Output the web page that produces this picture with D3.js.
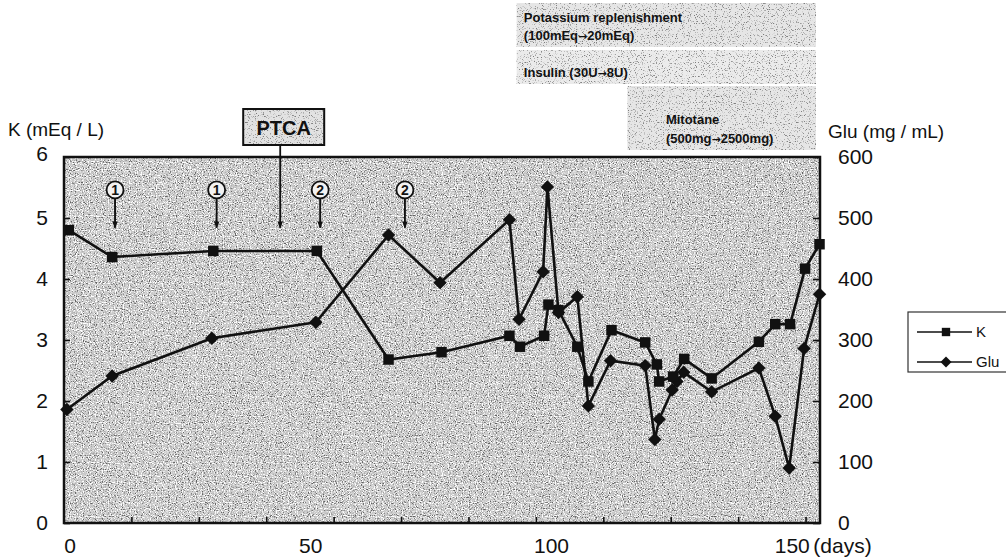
<!DOCTYPE html>
<html>
<head>
<meta charset="utf-8">
<script src="https://cdn.jsdelivr.net/npm/d3@7"></script>
<style>
  body { margin: 0; background: #fff; }
  text { font-family: "Liberation Sans", Arial, sans-serif; fill: #111; }
  tspan.arr { font-family: "DejaVu Sans", sans-serif; }
</style>
</head>
<body>
<svg id="chart" width="1006" height="559"></svg>
<script>
// K (mEq/L) readings
const kDays = [1, 10, 31, 52.5, 67.4, 78.4, 92.5, 94.7, 99.7, 100.6, 102.7, 106.6, 108.9,
  113.7, 120.7, 123.1, 123.6, 126.5, 128.8, 134.5, 144.3, 147.7, 150.8, 153.9, 156.9];
const kVals = [4.8, 4.36, 4.46, 4.46, 2.68, 2.8, 3.07, 2.89, 3.07, 3.58, 3.49, 2.89, 2.32,
  3.16, 2.96, 2.6, 2.32, 2.4, 2.69, 2.37, 2.97, 3.26, 3.26, 4.17, 4.57];

// Glu (mg/mL) readings
const gluDays = [0.6, 10, 30.7, 52.3, 67.4, 78.1, 92.5, 94.5, 99.5, 100.4, 102.7, 106.6, 108.9,
  113.5, 120.7, 122.7, 123.6, 126.3, 127.3, 128.7, 134.5, 144.3, 147.7, 150.6, 153.7, 156.9];
const gluVals = [186, 241, 303, 329, 472, 394, 497, 334, 412, 551, 345, 371, 192,
  266, 258, 137, 170, 218, 232, 247, 215, 254, 175, 90, 286, 375];

const kTicks = [0, 1, 2, 3, 4, 5, 6];
const gluTicks = [0, 100, 200, 300, 400, 500, 600];
const dayTicks = [14, 28, 42, 56, 70, 84, 98, 112, 126, 140, 154];
const dayLabels = [0, 50, 100, 150];

// circled markers over the plot
const marks = [
  {label: "1", day: 10.6},
  {label: "1", day: 31.7},
  {label: "2", day: 53.2},
  {label: "2", day: 70.8}
];
const ptcaDay = 44.9;

const svg = d3.select("#chart");
const W = 1006, H = 559;
const pL = 64, pR = 820, pT = 157, pB = 523;

const x = d3.scaleLinear().domain([0, 157]).range([pL, pR]);
const yK = d3.scaleLinear().domain([0, 6]).range([pB, pT]);
const yG = d3.scaleLinear().domain([0, 600]).range([pB, pT]);

svg.append("rect").attr("width", W).attr("height", H).attr("fill", "#fff");

// speckle texture: dark and light grains
const defs = svg.append("defs");
function grainFilter(id, seed, tone, k, cut) {
  const f = defs.append("filter").attr("id", id)
    .attr("filterUnits", "userSpaceOnUse")
    .attr("x", 0).attr("y", 0).attr("width", W).attr("height", H);
  f.append("feTurbulence").attr("type", "fractalNoise").attr("baseFrequency", 0.85)
    .attr("numOctaves", 1).attr("seed", seed).attr("result", "noise");
  f.append("feColorMatrix").attr("in", "noise").attr("type", "matrix")
    .attr("values", `0 0 0 0 ${tone}  0 0 0 0 ${tone}  0 0 0 0 ${tone}  ${k} 0 0 0 ${cut}`)
    .attr("result", "dots");
  f.append("feComposite").attr("in", "dots").attr("in2", "SourceAlpha").attr("operator", "in");
}
grainFilter("dark", 7, 0.12, -6, 2.85);
grainFilter("darkLight", 7, 0.2, -6, 2.6);
grainFilter("white", 23, 1, 6, -3.0);

function speckled(g, x0, y0, w, h, base, light) {
  const r = () => g.append("rect").attr("x", x0).attr("y", y0).attr("width", w).attr("height", h);
  r().attr("fill", base);
  r().attr("fill", "#000").attr("filter", `url(#${light ? "darkLight" : "dark"})`);
  if (!light) r().attr("fill", "#000").attr("filter", "url(#white)");
}

// treatment shading at the top
const bg = svg.append("g");
speckled(bg, x(94), 3, pR - x(94) - 4, 44, "#e6e6e6", true);
speckled(bg, x(94), 50, pR - x(94) - 4, 34, "#ebebeb", true);
speckled(bg, x(117), 86, pR - x(117) - 4, 64, "#e6e6e6", true);

const notes = svg.append("g").attr("font-weight", "bold").attr("font-size", 13);
function note(xp, yp, parts) {
  const t = notes.append("text").attr("x", xp).attr("y", yp);
  parts.forEach((p, i) => {
    if (i > 0) t.append("tspan").attr("class", "arr").attr("font-size", 11).text("\u2192");
    t.append("tspan").text(p);
  });
}
note(x(95.5), 22, ["Potassium replenishment"]);
note(x(95.5), 40, ["(100mEq", "20mEq)"]);
note(x(95.5), 77, ["Insulin (30U", "8U)"]);
note(x(125), 124, ["Mitotane"]);
note(x(125), 143, ["(500mg", "2500mg)"]);

// plot area
speckled(svg.append("g"), pL, pT, pR - pL, pB - pT, "#c9c9c9", false);

// axes
const axL = svg.append("g").attr("transform", `translate(${pL},0)`)
  .call(d3.axisLeft(yK).tickValues(kTicks).tickFormat(d3.format("d"))
    .tickSizeInner(-6).tickSizeOuter(0).tickPadding(16));
const axR = svg.append("g").attr("transform", `translate(${pR},0)`)
  .call(d3.axisRight(yG).tickValues(gluTicks).tickFormat(d3.format("d"))
    .tickSizeInner(-7).tickSizeOuter(0).tickPadding(18));
const axB = svg.append("g").attr("transform", `translate(0,${pB})`)
  .call(d3.axisBottom(x).tickValues(dayTicks).tickSizeInner(-6).tickSizeOuter(0).tickFormat(""));
[axL, axR, axB].forEach(a => {
  a.select(".domain").remove();
  a.selectAll("line").attr("stroke", "#111").attr("stroke-width", 1.6);
  a.selectAll("text").attr("font-size", 21).attr("font-family", "Liberation Sans, Arial, sans-serif")
    .attr("fill", "#111");
});
axL.selectAll("text").filter(d => d === 6).attr("y", -3);

svg.append("g").selectAll("text").data(dayLabels).join("text")
  .attr("x", d => x(d) + 6).attr("y", 553)
  .attr("text-anchor", "middle").attr("font-size", 21)
  .text(d => d);
svg.append("text").attr("x", x(150) + 27).attr("y", 553).attr("font-size", 21).text("(days)");

svg.append("text").attr("x", 8).attr("y", 136).attr("font-size", 19).text("K (mEq / L)");
svg.append("text").attr("x", 828).attr("y", 138).attr("font-size", 19).text("Glu (mg / mL)");

// frame
svg.append("rect").attr("x", pL).attr("y", pT).attr("width", pR - pL)
  .attr("height", pB - pT).attr("fill", "none").attr("stroke", "#111").attr("stroke-width", 2.5);

// arrows
defs.append("marker").attr("id", "head").attr("viewBox", "0 0 10 10")
  .attr("refX", 9).attr("refY", 5).attr("markerWidth", 7).attr("markerHeight", 7)
  .attr("markerUnits", "userSpaceOnUse").attr("orient", "auto")
  .append("path").attr("d", "M0,1 L10,5 L0,9 Z").attr("fill", "#111");

const mk = svg.append("g").selectAll("g").data(marks).join("g")
  .attr("transform", d => `translate(${x(d.day)},0)`);
mk.append("line").attr("x1", 0).attr("x2", 0).attr("y1", yK(5.32)).attr("y2", yK(4.84))
  .attr("stroke", "#111").attr("stroke-width", 1.9).attr("marker-end", "url(#head)");
mk.append("circle").attr("cx", 0).attr("cy", yK(5.46)).attr("r", 8.5)
  .attr("fill", "#f2f2f2").attr("stroke", "#111").attr("stroke-width", 1.8);
mk.append("text").attr("x", 0).attr("y", yK(5.46) + 5).attr("text-anchor", "middle")
  .attr("font-size", 14).attr("font-weight", "bold").text(d => d.label);

// PTCA box and arrow
const px = x(ptcaDay);
svg.append("line").attr("x1", px).attr("x2", px).attr("y1", 145).attr("y2", yK(4.84))
  .attr("stroke", "#111").attr("stroke-width", 1.8).attr("marker-end", "url(#head)");
const pb = svg.append("g");
speckled(pb, px - 37, 109, 81, 36, "#e2e2e2", true);
pb.append("rect").attr("x", px - 37).attr("y", 109).attr("width", 81).attr("height", 36)
  .attr("fill", "none").attr("stroke", "#111").attr("stroke-width", 2);
pb.append("text").attr("x", px + 3.5).attr("y", 135).attr("text-anchor", "middle")
  .attr("font-size", 20).attr("font-weight", "bold").text("PTCA");

// series
const kData = kDays.map((d, i) => ({day: d, v: kVals[i]}));
const gData = gluDays.map((d, i) => ({day: d, v: gluVals[i]}));

const lineK = d3.line().x(d => x(d.day)).y(d => yK(d.v));
const lineG = d3.line().x(d => x(d.day)).y(d => yG(d.v));

svg.append("path").datum(gData).attr("d", lineG)
  .attr("fill", "none").attr("stroke", "#111").attr("stroke-width", 2.6);
svg.append("path").datum(kData).attr("d", lineK)
  .attr("fill", "none").attr("stroke", "#111").attr("stroke-width", 2.6);

const sq = d3.symbol().type(d3.symbolSquare).size(110);
const dia = d3.symbol().type(d3.symbolSquare).size(90);

svg.append("g").selectAll("path").data(gData).join("path")
  .attr("d", dia).attr("fill", "#111")
  .attr("transform", d => `translate(${x(d.day)},${yG(d.v)}) rotate(45)`);
svg.append("g").selectAll("path").data(kData).join("path")
  .attr("d", sq).attr("fill", "#111")
  .attr("transform", d => `translate(${x(d.day)},${yK(d.v)})`);

// legend
const lg = svg.append("g");
lg.append("rect").attr("x", 908).attr("y", 312).attr("width", 110).attr("height", 60)
  .attr("fill", "#fff").attr("stroke", "#333").attr("stroke-width", 1.2);
const items = [{name: "K", rot: 0, y: 332}, {name: "Glu", rot: 45, y: 362}];
items.forEach(it => {
  lg.append("line").attr("x1", 917).attr("x2", 972).attr("y1", it.y).attr("y2", it.y)
    .attr("stroke", "#111").attr("stroke-width", 1.6);
  lg.append("path").attr("d", d3.symbol().type(d3.symbolSquare).size(it.rot ? 60 : 70))
    .attr("fill", "#111").attr("transform", `translate(946,${it.y}) rotate(${it.rot})`);
  lg.append("text").attr("x", 976).attr("y", it.y + 5).attr("font-size", 15).text(it.name);
});
</script>
</body>
</html>
